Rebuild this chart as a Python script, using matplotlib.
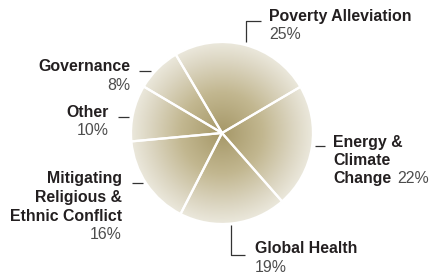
import numpy as np
import matplotlib
matplotlib.use("Agg")
import matplotlib.pyplot as plt
from matplotlib.colors import LinearSegmentedColormap

categories = ["Poverty Alleviation", "Energy &\nClimate\nChange", "Global Health",
              "Mitigating\nReligious &\nEthnic Conflict", "Other", "Governance"]
values = [25, 22, 19, 16, 10, 8]
pct_labels = ["25%", "22%", "19%", "16%", "10%", "8%"]

W, H = 430, 276
fig = plt.figure(figsize=(W / 100, H / 100), dpi=100)
ax = fig.add_axes([0, 0, 1, 1])

def Y(y):
    return H - y

cx, cy, R = 222, Y(133), 91
wedges, _ = ax.pie(values, center=(cx, cy), radius=R, startangle=120.5,
                   counterclock=False,
                   wedgeprops=dict(facecolor="none", edgecolor="white",
                                   linewidth=1.6, zorder=3))

# radial gradient fill
n = 300
xs = np.linspace(-1, 1, n)
XX, YY = np.meshgrid(xs, xs)
rr = np.clip(np.sqrt(XX ** 2 + YY ** 2), 0, 1)
cmap = LinearSegmentedColormap.from_list(
    "g", [(0.0, "#a69868"), (0.45, "#c2b790"), (0.8, "#dcd6c2"), (1.0, "#ebe8dc")])
for w in wedges:
    im = ax.imshow(rr, cmap=cmap, vmin=0, vmax=1, extent=(cx - R, cx + R, cy - R, cy + R),
                   origin="lower", zorder=1, interpolation="bilinear")
    im.set_clip_path(w)

ax.set_xlim(0, W)
ax.set_ylim(0, H)
ax.set_aspect("auto")
ax.axis("off")

FONT = "Liberation Sans"
FS = 11.4
bold_c = "#231f20"
pct_c = "#4d4d4d"
line_c = "#333333"

def lab(x, y, s, ha, bold=True):
    ax.text(x, Y(y), s, ha=ha, va="baseline", fontsize=FS, family=FONT,
            fontweight="bold" if bold else "normal", color=bold_c if bold else pct_c)

def leader(pts):
    xsl = [p[0] for p in pts]
    ysl = [Y(p[1]) for p in pts]
    ax.plot(xsl, ysl, color=line_c, lw=0.9, solid_capstyle="butt")

# Poverty Alleviation
lab(269, 21, categories[0], "left")
lab(269, 39, pct_labels[0], "left", bold=False)
leader([(246, 42), (246, 21), (261, 21)])

# Energy & Climate Change
for line, yb in zip(categories[1].split("\n"), [147, 165, 183]):
    lab(333, yb, line, "left")
lab(397, 183, pct_labels[1], "left", bold=False)
leader([(315, 146), (325, 146)])

# Global Health
lab(255, 253, categories[2], "left")
lab(255, 272, pct_labels[2], "left", bold=False)
leader([(231, 225), (231, 255), (245, 255)])

# Mitigating
for line, yb in zip(categories[3].split("\n"), [183, 202, 221]):
    lab(122, yb, line, "right")
lab(122, 239, pct_labels[3], "right", bold=False)
leader([(132, 183), (143, 183)])

# Other
lab(109, 117, categories[4], "right")
lab(109, 135, pct_labels[4], "right", bold=False)
leader([(118, 117), (129, 117)])

# Governance
lab(130, 71, categories[5], "right")
lab(130, 90, pct_labels[5], "right", bold=False)
leader([(139, 71), (151, 71)])

fig.savefig("out.png", dpi=100, facecolor="white")
